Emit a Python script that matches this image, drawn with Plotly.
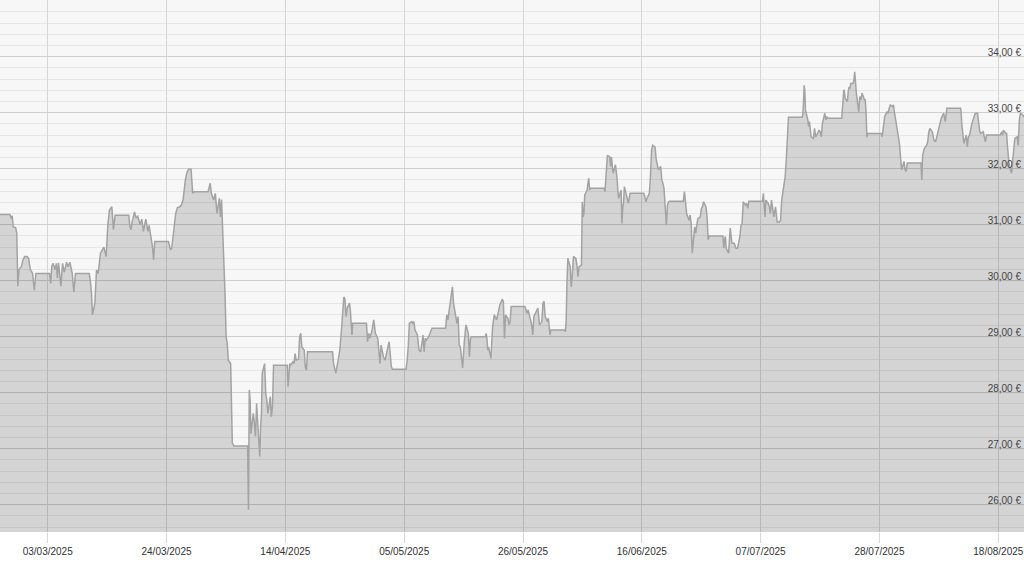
import pandas as pd
import plotly.graph_objects as go

# intraday samples per trading day (EUR);
# the first value of a week is the level the line holds over the weekend
feb_days = [21, 24, 25, 26, 27, 28]
feb_prices = [
    [31.18],
    [31.18, 31.11, 31.16, 30.96],
    [30.95, 30.85, 29.9, 30.2],
    [30.25, 30.37, 30.43],
    [30.43, 30.4, 30.2],
    [30.13, 29.83, 30.13],
]

mar_days = [3, 4, 5, 6, 7, 10, 11, 12, 13, 14, 17, 18, 19, 20, 21, 24, 25, 26, 27, 28, 31]
mar_prices = [
    [30.13, 29.95, 30.25, 30.31],
    [30.2, 30.31, 30.05, 30.32],
    [29.9, 30.31, 30.15],
    [30.33, 30.25, 30.33],
    [30.13, 29.8, 30.13],
    [30.13, 30.0, 29.8, 29.39],
    [29.6, 30.19, 30.13],
    [30.49, 30.6],
    [30.43, 31.0, 31.26],
    [31.32, 30.91, 31.17],
    [31.17, 30.96, 30.91, 31.05],
    [31.23, 31.12, 31.15],
    [31.0, 31.1, 30.88],
    [31.1, 30.95, 30.88, 30.99],
    [30.73, 30.6, 30.37, 30.7],
    [30.7, 30.61, 30.55, 30.58],
    [30.96, 31.2, 31.3],
    [31.32, 31.35, 31.44],
    [31.8, 31.94, 31.99],
    [31.99, 31.56, 31.59],
    [31.59, 31.68, 31.74, 31.56],
]

apr_days = [1, 2, 3, 4, 7, 8, 9, 10, 11, 14, 15, 16, 17, 22, 23, 24, 25, 28, 29, 30]
apr_prices = [
    [31.44, 31.56, 31.2],
    [31.47, 31.14, 31.45, 30.96],
    [29.77, 29.0, 28.88, 28.58],
    [28.52, 27.1, 27.05],
    [27.05, 25.91, 28.05, 27.87, 27.27],
    [27.63, 27.45, 27.22, 27.81],
    [27.16, 26.86, 27.39, 27.63, 28.35],
    [28.52, 27.99, 27.87, 27.63],
    [27.93, 27.57, 27.75, 28.49],
    [28.49, 28.11, 28.29, 28.52, 28.49],
    [28.55, 28.52, 28.7, 28.58],
    [28.6, 29.0, 29.06, 28.82],
    [28.76, 28.46, 28.4, 28.73],
    [28.73, 28.52, 28.4, 28.35],
    [28.58, 28.76, 29.12],
    [29.71, 29.68, 29.36, 29.51],
    [29.6, 29.48, 29.3, 29.03, 29.24],
    [29.24, 28.91, 29.06, 28.97],
    [29.12, 29.3, 29.06],
    [28.97, 28.67, 28.52, 28.85],
]

may_days = [1, 2, 5, 6, 7, 8, 9, 12, 13, 14, 15, 16, 19, 20, 21, 22, 23, 26, 27, 28, 29, 30]
may_prices = [
    [28.64, 28.58, 28.73],
    [28.91, 28.7, 28.47, 28.42],
    [28.42, 28.58, 28.82, 29.24],
    [29.27, 29.24, 29.27, 29.12],
    [29.03, 28.76, 28.73],
    [29.03, 28.73, 28.97, 28.94],
    [29.0, 29.15],
    [29.15, 29.39, 29.3, 29.45],
    [29.71, 29.89, 29.6, 29.48],
    [29.24, 29.36, 28.85, 28.82],
    [28.44, 28.91, 29.21],
    [29.06, 28.64, 28.97, 29.0],
    [29.0, 29.06, 28.97, 28.76, 28.82],
    [28.61, 29.18, 29.39],
    [29.3, 29.42, 29.57],
    [29.67, 29.63, 28.97, 29.39],
    [29.33, 29.21, 29.27, 29.54],
    [29.54, 29.45, 29.42, 29.48],
    [29.3, 29.21, 29.03, 29.36],
    [29.45, 29.51, 29.21],
    [29.27, 29.6, 29.63, 29.36],
    [29.27, 29.33, 29.18, 29.03, 29.12],
]

jun_days = [2, 3, 4, 5, 6, 9, 10, 11, 12, 13, 16, 17, 18, 19, 20, 23, 24, 25, 26, 27, 30]
jun_prices = [
    [29.12, 29.09, 29.27, 29.95, 30.4],
    [30.25, 29.89, 30.13, 30.43],
    [30.4, 30.28, 30.07, 30.25],
    [30.28, 31.41, 31.14, 31.2, 31.53],
    [31.62, 31.74, 31.83, 31.62, 31.65],
    [31.65, 31.59, 31.8, 32.16, 32.24],
    [32.21, 32.04, 32.21, 32.1, 31.92],
    [32.07, 31.98, 31.83, 31.59, 31.47],
    [31.62, 31.02, 31.29, 31.41, 31.68],
    [31.5, 31.38, 31.56],
    [31.56, 31.5, 31.41, 31.47],
    [31.56, 31.86, 32.33, 32.42],
    [32.39, 32.18, 32.1, 31.98],
    [32.04, 31.8, 31.74, 31.65],
    [30.99, 31.35, 31.41, 31.42],
    [31.42, 31.59, 31.41, 31.2],
    [31.08, 31.17, 31.02, 30.49],
    [30.96, 30.85, 31.0, 31.11],
    [31.14, 31.29, 31.32, 31.41],
    [31.32, 31.14, 30.73, 30.8],
    [30.8, 30.58, 30.73, 30.79, 30.58],
]

jul_days = [1, 2, 3, 4, 7, 8, 9, 10, 11, 14, 15, 16, 17, 18, 21, 22, 23, 24, 25, 28, 29, 30, 31]
jul_prices = [
    [30.49, 30.94, 30.67],
    [30.67, 30.58, 30.58],
    [30.79, 30.99, 31.02, 31.41],
    [31.35, 31.38, 31.29, 31.42],
    [31.42, 31.56, 31.2, 31.14, 31.44],
    [31.38, 31.32, 31.2, 31.44],
    [31.14, 31.32, 31.05],
    [31.05, 31.08, 31.44, 31.56],
    [31.86, 32.16, 32.51, 32.92],
    [32.92, 32.96, 33.17, 33.49, 33.4, 33.05],
    [32.87, 32.75, 32.84, 32.69, 32.57],
    [32.54, 32.72, 32.57, 32.6],
    [32.69, 32.66, 32.57, 32.81],
    [32.99, 32.87, 32.93, 32.9],
    [32.9, 33.02, 33.23, 33.41, 33.38, 33.26],
    [33.2, 33.38, 33.46, 33.43, 33.52],
    [33.52, 33.58, 33.73, 33.52, 33.35],
    [33.02, 33.29, 33.23, 33.35],
    [33.23, 33.23, 33.02, 32.56, 32.63],
    [32.63, 32.57, 32.72, 32.84, 32.93],
    [33.02, 32.99, 33.08, 33.14],
    [33.11, 33.14, 33.02, 32.93, 32.78],
    [32.57, 32.45, 32.2, 31.98],
]

aug_days = [1, 4, 5, 6, 7, 8, 11, 12, 13, 14, 15, 18, 19, 20, 21, 22]
aug_prices = [
    [32.13, 31.98, 31.95, 32.1],
    [32.1, 31.8, 32.24, 32.3, 32.36],
    [32.42, 32.48, 32.66, 32.72],
    [32.66, 32.51, 32.48],
    [32.66, 32.75, 32.81, 32.9],
    [32.99, 32.93, 32.84, 32.96, 33.08],
    [33.08, 33.02, 32.81, 32.72, 32.63, 32.54, 32.45],
    [32.6, 32.39, 32.57, 32.6],
    [32.81, 32.87, 32.96, 32.99],
    [32.99, 32.81, 32.66, 32.63],
    [32.66, 32.57, 32.48, 32.6],
    [32.6, 32.63, 32.66, 32.6, 32.69],
    [32.63, 32.63, 32.39, 32.16, 32.07],
    [31.92, 32.16, 32.36, 32.54],
    [32.57, 32.42, 32.87, 32.99],
    [32.96, 32.87],
]

tick_dates = ['2025-03-03', '2025-03-24', '2025-04-14', '2025-05-05', '2025-05-26',
              '2025-06-16', '2025-07-07', '2025-07-28', '2025-08-18']
price_ticks = [26, 27, 28, 29, 30, 31, 32, 33, 34]
price_labels = ['26,00 €', '27,00 €', '28,00 €', '29,00 €', '30,00 €',
                '31,00 €', '32,00 €', '33,00 €', '34,00 €']


def build_series(blocks):
    # spread each day's samples over the 08:00-22:00 session
    times, values = [], []
    for month, days, prices in blocks:
        for day, day_prices in zip(days, prices):
            open_time = pd.Timestamp(2025, month, day, 8)
            n = len(day_prices)
            for i, p in enumerate(day_prices):
                hours = 14 if n == 1 else i * 14 / (n - 1)
                times.append(open_time + pd.Timedelta(hours=hours))
                values.append(p)
    return times, values


x, y = build_series([
    (2, feb_days, feb_prices),
    (3, mar_days, mar_prices),
    (4, apr_days, apr_prices),
    (5, may_days, may_prices),
    (6, jun_days, jun_prices),
    (7, jul_days, jul_prices),
    (8, aug_days, aug_prices),
])

fig = go.Figure()
fig.add_trace(go.Scatter(x=x,
                         y=y,
                         mode='lines',
                         line=dict(color='#a3a3a3', width=1.5),
                         fill='tozeroy',
                         fillcolor='rgba(0,0,0,0.14)',
                         hoverinfo='skip',
                         showlegend=False))

fig.update_layout(
    width=1024, height=563,
    margin=dict(l=0, r=0, t=0, b=31),
    paper_bgcolor='#ffffff',
    plot_bgcolor='#f7f7f7',
    font=dict(family='Liberation Sans, Arial, sans-serif', size=10, color='#444444'),
)
fig.update_xaxes(
    range=['2025-02-22 13:40', '2025-08-22 13:00'],
    tickmode='array',
    tickvals=tick_dates,
    tickformat='%d/%m/%Y',
    ticks='outside', ticklen=10, tickcolor='#d6d6d6',
    ticklabeloverflow='allow',
    automargin=False,
    showgrid=True, gridcolor='#d6d6d6', gridwidth=1,
    showline=False, zeroline=False,
    tickfont=dict(size=10, color='#333333'),
)
# price labels inside the plot on the right edge, just above their grid line;
# a free anchor keeps the last date label from being hidden under them
fig.update_yaxes(
    range=[25.5125, 35.0125],
    side='right', anchor='free', position=1,
    tickmode='array', tickvals=price_ticks, ticktext=price_labels,
    ticklabelposition='inside top',
    ticklabelshift=3,
    ticklabeloverflow='allow',
    automargin=False,
    ticks='',
    showgrid=True, gridcolor='#cfcfcf', gridwidth=1,
    minor=dict(tick0=0, dtick=0.2, showgrid=True, gridcolor='#e6e6e6', gridwidth=1),
    zeroline=False, showline=False,
    tickfont=dict(size=10, color='#444444'),
)

fig.write_html("out.html",
               config={'displayModeBar': False},
               post_script="document.body.style.margin='0px';")
